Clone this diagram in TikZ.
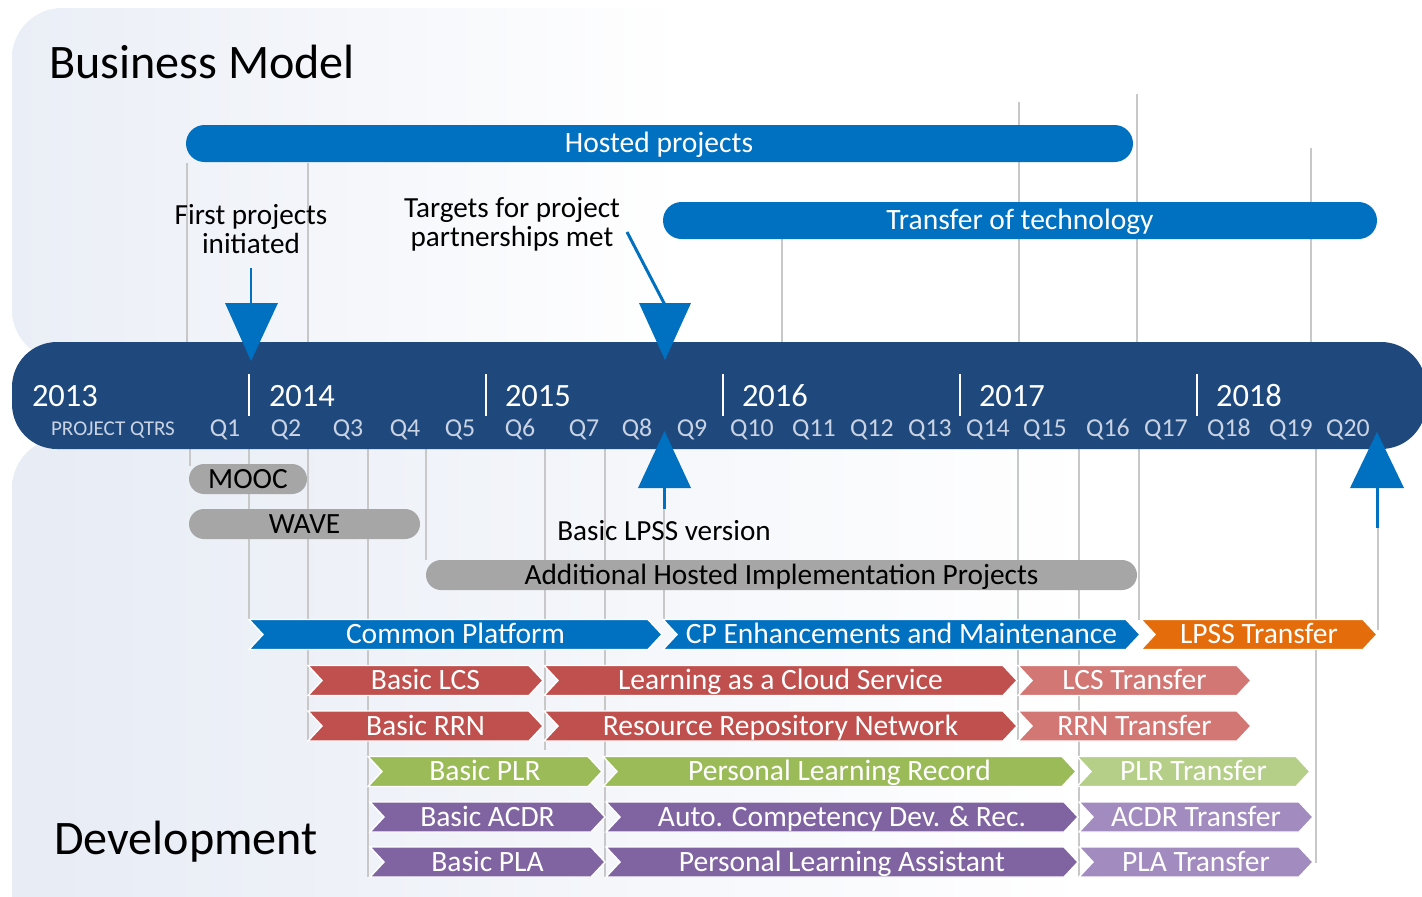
\documentclass[tikz,border=0pt]{standalone}
\usepackage{fontspec}
\setmainfont{Carlito}
\usetikzlibrary{calc}

\definecolor{navy}{HTML}{1F497D}
\definecolor{barblue}{HTML}{0070C0}
\definecolor{qgray}{HTML}{C9D3E3}
\definecolor{pillgray}{HTML}{A6A6A6}
\definecolor{gridgray}{HTML}{C8C8C8}
\definecolor{redA}{HTML}{C0504D}
\definecolor{redB}{HTML}{D27774}
\definecolor{greenA}{HTML}{9BBB59}
\definecolor{greenB}{HTML}{B5CF88}
\definecolor{purpleA}{HTML}{8064A2}
\definecolor{purpleB}{HTML}{A28BBF}
\definecolor{orangeA}{HTML}{E46C0A}
\definecolor{panelL}{HTML}{DAE1EE}
\definecolor{panelM}{HTML}{EAEEF6}

% soft left-to-right fade of the two background panels
\pgfdeclarehorizontalshading{panelfade}{100bp}{color(0bp)=(panelL); color(25bp)=(panelM); color(48bp)=(white); color(100bp)=(white)}
\pgfdeclarehorizontalshading{panelfadeB}{100bp}{color(0bp)=(panelL); color(30bp)=(panelM); color(62bp)=(white); color(100bp)=(white)}

% chevron: name, left x, tip x, centre y, colour, label
\newcommand{\chevbar}[6]{%
  \fill[#5, draw=white, line width=0.8pt] (#2,#4-15) -- (#3-14,#4-15) -- (#3,#4) -- (#3-14,#4+15) -- (#2,#4+15) -- (#2+14,#4) -- cycle;
  \node[chevtext] (#1) at ({(#2+#3)/2},#4+9) {#6};}

\tikzset{
  gridline/.style={draw=gridgray, line width=0.85pt},
  pillbar/.style={fill=barblue, rounded corners=0.37cm},
  graypill/.style={fill=pillgray, rounded corners=0.3cm},
  chevtext/.style={anchor=base, text=white, font=\fontsize{16.8}{19}\selectfont},
  bartext/.style={anchor=base, text=white, font=\fontsize{16.8}{19}\selectfont},
  pilltext/.style={anchor=base, text=black, font=\fontsize{16.7}{19}\selectfont},
  notetext/.style={align=center, text=black, font=\fontsize{16.6}{16.4}\selectfont},
  yearlabel/.style={anchor=base west, text=white, font=\fontsize{18.5}{22}\selectfont},
  qlabel/.style={anchor=base, text=qgray, font=\fontsize{14.7}{17}\selectfont},
  titletext/.style={anchor=base west, text=black, font=\fontsize{27.4}{30}\selectfont},
  tipblue/.style={fill=barblue},
  shaft/.style={draw=barblue, line width=1.7pt},
  every node/.style={inner sep=0pt, outer sep=0pt}
}

\begin{document}
\begin{tikzpicture}[x=0.02cm, y=-0.02cm]
\useasboundingbox (0,0) rectangle (1422,896);
\clip (0,0) rectangle (1422,896);

% background panels
\shade[shading=panelfade, rounded corners=1cm] (12,8) rectangle (1470,360);
\shade[shading=panelfadeB, rounded corners=1cm] (12,438) rectangle (1470,950);

% quarter grid lines, upper panel
\foreach \gx/\gy in {187/163, 308/163, 782/239, 1019/102, 1137/94, 1311/148}
  \draw[gridline] (\gx,\gy) -- (\gx,345);
% quarter grid lines, lower panel
\foreach \gx/\gy in {190/466, 249/620, 308/740, 368/877, 426/560, 545/750, 605/877, 664/620, 1018/740, 1079/877, 1139/620, 1316/863}
  \draw[gridline] (\gx,445) -- (\gx,\gy);
\draw[gridline] (1378,528) -- (1378,630);

% titles
\node[titletext] (bm) at (49,78) {Business Model};
\node[titletext] (dev) at (54,854) {Development};

% business model bars
\fill[pillbar] (186,125) rectangle (1133,162);
\node[bartext] (hosted) at (659,152) {Hosted projects};
\fill[pillbar] (663,202) rectangle (1377,239);
\node[bartext] (tot) at (1020,229) {Transfer of technology};

% milestone notes
\node[notetext] (first) at (251,229) {First projects\\initiated};
\node[notetext] (targets) at (512,224) {Targets for project\\partnerships met};

% timeline band
\fill[navy, rounded corners=0.9cm] (12,342) rectangle (1426,449);
\foreach \dx in {249,486,723,960,1197}
  \draw[white, line width=1.2pt] (\dx,374) -- (\dx,416);
\node[yearlabel] (y13) at (32,406) {2013};
\node[yearlabel] (y14) at (269,406) {2014};
\node[yearlabel] (y15) at (505,406) {2015};
\node[yearlabel] (y16) at (742,406) {2016};
\node[yearlabel] (y17) at (979,406) {2017};
\node[yearlabel] (y18) at (1216,406) {2018};
\node[anchor=base, text=qgray, font=\fontsize{12}{14}\selectfont] (pq) at (113,435) {PROJECT QTRS};
\foreach \qn/\qx in {1/225, 2/286, 3/348, 4/405, 5/460, 6/520, 7/584, 8/637, 9/692, 10/752,
                     11/814, 12/872, 13/930, 14/988, 15/1045, 16/1108, 17/1166, 18/1229, 19/1291, 20/1348}
  \node[qlabel] (q\qn) at (\qx,436) {Q\qn};

% milestone arrows
\coordinate (fpA) at (251,268);
\coordinate (fpB) at (251,305);
\draw[shaft] (fpA) -- (fpB);
\fill[tipblue] (225,303) -- (278,303) -- (251,361) -- cycle;
\coordinate (tgA) at (627,232);
\coordinate (tgB) at (665,305);
\draw[shaft] (tgA) -- (tgB);
\fill[tipblue] (639,303) -- (691,303) -- (665,360) -- cycle;
\coordinate (lpA) at (664.5,486);
\coordinate (lpB) at (664.5,509);
\draw[shaft] (lpA) -- (lpB);
\fill[tipblue] (638,488) -- (691,488) -- (664.5,431) -- cycle;
\coordinate (q20A) at (1377,486);
\coordinate (q20B) at (1377,528);
\draw[shaft] (q20A) -- (q20B);
\fill[tipblue] (1350,488) -- (1404,488) -- (1377,432) -- cycle;

\node[anchor=base, text=black, font=\fontsize{16.6}{19}\selectfont] (lpss) at (664,540) {Basic LPSS version};

% hosted-implementation pills
\fill[graypill] (189,464) rectangle (307,494);
\node[pilltext] (mooc) at (248,488) {MOOC};
\fill[graypill] (189,509) rectangle (420,539);
\node[pilltext] (wave) at (304.5,533) {WAVE};
\fill[graypill] (426,560) rectangle (1137,590);
\node[pilltext] (ahip) at (781.5,584) {Additional Hosted Implementation Projects};

% development chevrons
\chevbar{cp}{249}{662}{634.5}{barblue}{Common Platform}
\chevbar{cpe}{663}{1140}{634.5}{barblue}{CP Enhancements and Maintenance}
\chevbar{lpsst}{1141}{1377}{634.5}{orangeA}{LPSS Transfer}

\chevbar{lcsb}{308}{543}{680.5}{redA}{Basic LCS}
\chevbar{lcs}{544}{1017}{680.5}{redA}{Learning as a Cloud Service}
\chevbar{lcst}{1018}{1251}{680.5}{redB}{LCS Transfer}

\chevbar{rrnb}{308}{543}{726}{redA}{Basic RRN}
\chevbar{rrn}{544}{1017}{726}{redA}{Resource Repository Network}
\chevbar{rrnt}{1018}{1251}{726}{redB}{RRN Transfer}

\chevbar{plrb}{368}{602}{771.5}{greenA}{Basic PLR}
\chevbar{plr}{603}{1076}{771.5}{greenA}{Personal Learning Record}
\chevbar{plrt}{1077}{1310}{771.5}{greenB}{PLR Transfer}

\chevbar{acdrb}{370}{605}{817}{purpleA}{Basic ACDR}
\chevbar{acdr}{606}{1078}{817}{purpleA}{Auto. Competency Dev. \& Rec.}
\chevbar{acdrt}{1079}{1313}{817}{purpleB}{ACDR Transfer}

\chevbar{plab}{370}{605}{862}{purpleA}{Basic PLA}
\chevbar{pla}{606}{1078}{862}{purpleA}{Personal Learning Assistant}
\chevbar{plat}{1079}{1313}{862}{purpleB}{PLA Transfer}
\end{tikzpicture}
\end{document}
